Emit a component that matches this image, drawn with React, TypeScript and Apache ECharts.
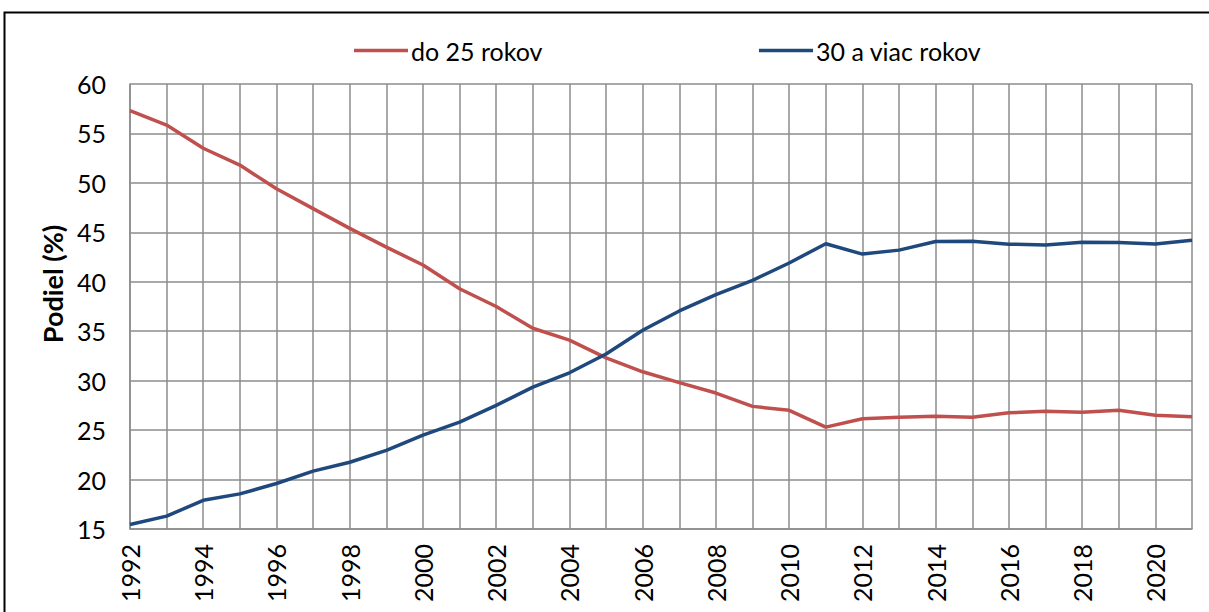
import React, { useEffect, useRef } from "react";
import * as echarts from "echarts";

const years = [
  "1992", "1993", "1994", "1995", "1996", "1997", "1998", "1999", "2000", "2001",
  "2002", "2003", "2004", "2005", "2006", "2007", "2008", "2009", "2010", "2011",
  "2012", "2013", "2014", "2015", "2016", "2017", "2018", "2019", "2020", "2021",
];

const under25 = [
  57.3, 55.85, 53.5, 51.8, 49.4, 47.4, 45.4, 43.5, 41.7, 39.3,
  37.5, 35.3, 34.1, 32.3, 30.9, 29.8, 28.75, 27.4, 27.0, 25.3,
  26.15, 26.3, 26.4, 26.3, 26.75, 26.9, 26.8, 27.0, 26.5, 26.35,
];

const over30 = [
  15.45, 16.3, 17.9, 18.55, 19.6, 20.85, 21.75, 22.95, 24.5, 25.8,
  27.5, 29.35, 30.8, 32.7, 35.1, 37.05, 38.7, 40.15, 41.9, 43.85,
  42.8, 43.2, 44.07, 44.1, 43.8, 43.73, 44.0, 43.97, 43.83, 44.2,
];

const seriesNames = ["do 25 rokov", "30 a viac rokov"];
const yAxisName = "Podiel (%)";

const FONT = "Lato, 'Noto Sans', sans-serif";

export default function App() {
  const ref = useRef<HTMLDivElement>(null);
  useEffect(() => {
    if (!ref.current) return;
    const chart = echarts.init(ref.current, undefined, { renderer: "svg" });
    const gridColor = "#8c8c8c";
    const legendBase = {
      top: 38,
      padding: 0,
      icon: "rect",
      itemWidth: 54,
      itemHeight: 3.5,
      itemGap: 0,
      textStyle: { fontFamily: FONT, fontSize: 25, color: "#000", padding: [0, 0, 0, -2] },
    };
    chart.setOption({
      animation: false,
      backgroundColor: "#ffffff",
      textStyle: { fontFamily: FONT },
      graphic: [
        {
          type: "rect",
          shape: { x: 4.5, y: 12.5, width: 1300, height: 700 },
          style: { fill: "none", stroke: "#000000", lineWidth: 2 },
          silent: true,
        },
        {
          type: "text",
          x: 52,
          y: 284,
          rotation: Math.PI / 2,
          style: {
            text: yAxisName,
            fontFamily: FONT,
            fontSize: 27,
            fontWeight: "bold",
            fill: "#000",
            align: "center",
            verticalAlign: "middle",
          },
          silent: true,
        },
      ],
      legend: [
        { ...legendBase, data: [seriesNames[0]], left: 354 },
        { ...legendBase, data: [seriesNames[1]], left: 759 },
      ],
      grid: { left: 130, right: 17, top: 84, bottom: 83, containLabel: false },
      xAxis: {
        type: "category",
        data: years,
        boundaryGap: false,
        axisLine: { show: true, lineStyle: { color: gridColor, width: 1.5 } },
        axisTick: { show: false },
        splitLine: { show: true, interval: 0, lineStyle: { color: gridColor, width: 1.5 } },
        axisLabel: {
          interval: 1,
          rotate: 90,
          margin: 15,
          fontFamily: FONT,
          fontSize: 25,
          color: "#000",
        },
      },
      yAxis: {
        type: "value",
        min: 15,
        max: 60,
        interval: 5,
        axisLine: { show: true, lineStyle: { color: gridColor, width: 1.5 } },
        axisTick: { show: false },
        splitLine: { show: true, lineStyle: { color: gridColor, width: 1.5 } },
        axisLabel: { margin: 24, fontFamily: FONT, fontSize: 25, color: "#000" },
      },
      series: [
        {
          name: seriesNames[0],
          type: "line",
          data: under25,
          symbol: "none",
          lineStyle: { color: "#C0504D", width: 3.5 },
          itemStyle: { color: "#C0504D" },
        },
        {
          name: seriesNames[1],
          type: "line",
          data: over30,
          symbol: "none",
          lineStyle: { color: "#1F497D", width: 3.5 },
          itemStyle: { color: "#1F497D" },
        },
      ],
    });
    return () => chart.dispose();
  }, []);
  return (
    <div
      ref={ref}
      style={{ position: "absolute", left: 0, top: 0, width: 1209, height: 612 }}
    />
  );
}
